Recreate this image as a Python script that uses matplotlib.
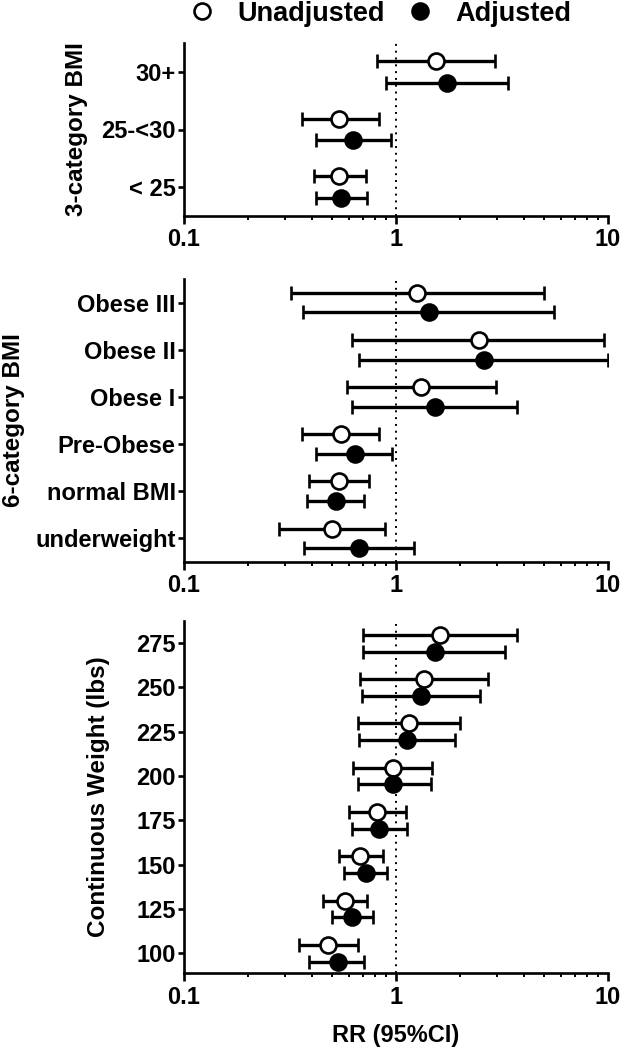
import matplotlib
matplotlib.use('Agg')
import matplotlib.pyplot as plt
from matplotlib.lines import Line2D
from matplotlib.ticker import LogLocator, FixedLocator, NullFormatter

plt.rcParams['font.family'] = ['Liberation Sans', 'DejaVu Sans']
plt.rcParams['font.weight'] = 'bold'

# ---------------- Data ----------------
# Panel 1: 3-category BMI (listed top to bottom)
bmi3_labels = ['30+', '25-<30', '< 25']
bmi3_unadj = [1.54, 0.54, 0.54]
bmi3_unadj_lo = [0.81, 0.36, 0.41]
bmi3_unadj_hi = [2.92, 0.83, 0.72]
bmi3_adj = [1.74, 0.63, 0.55]
bmi3_adj_lo = [0.90, 0.42, 0.42]
bmi3_adj_hi = [3.36, 0.95, 0.73]

# Panel 2: 6-category BMI (listed top to bottom)
bmi6_labels = ['Obese III', 'Obese II', 'Obese I', 'Pre-Obese', 'normal BMI', 'underweight']
bmi6_unadj = [1.25, 2.46, 1.31, 0.55, 0.54, 0.50]
bmi6_unadj_lo = [0.32, 0.62, 0.59, 0.36, 0.39, 0.28]
bmi6_unadj_hi = [5.00, 9.60, 2.97, 0.83, 0.745, 0.886]
bmi6_adj = [1.43, 2.59, 1.53, 0.64, 0.52, 0.67]
bmi6_adj_lo = [0.365, 0.67, 0.62, 0.42, 0.38, 0.367]
bmi6_adj_hi = [5.57, 10.0, 3.71, 0.957, 0.71, 1.22]

# Panel 3: continuous weight (lbs)
weight = [275, 250, 225, 200, 175, 150, 125, 100]
wt_unadj = [1.61, 1.35, 1.15, 0.97, 0.81, 0.68, 0.575, 0.48]
wt_unadj_lo = [0.70, 0.68, 0.66, 0.63, 0.60, 0.54, 0.455, 0.35]
wt_unadj_hi = [3.71, 2.73, 2.01, 1.48, 1.11, 0.87, 0.73, 0.66]
wt_adj = [1.52, 1.31, 1.13, 0.97, 0.83, 0.72, 0.62, 0.53]
wt_adj_lo = [0.70, 0.69, 0.666, 0.66, 0.62, 0.57, 0.50, 0.39]
wt_adj_hi = [3.28, 2.48, 1.89, 1.46, 1.13, 0.91, 0.78, 0.71]

xticks = [0.1, 1, 10]
xticklabels = ['0.1', '1', '10']

FS = 17
LFS = 17.5
MS = 11.5
MEW = 1.9
ELW = 2.4
CAP = 4.8
CAPT = 2.4

fig = plt.figure(figsize=(6.21, 10.5), dpi=100)

L, W = 184 / 621, (608 - 184) / 621


def make_ax(top_px, bot_px):
    return fig.add_axes([L, 1 - bot_px / 1050, W, (bot_px - top_px) / 1050])


def style(ax):
    ax.set_xscale('log')
    ax.set_xlim(0.1, 10)
    ax.xaxis.set_major_locator(FixedLocator(xticks))
    ax.set_xticklabels(xticklabels)
    ax.xaxis.set_minor_locator(LogLocator(base=10, subs=range(2, 10)))
    ax.xaxis.set_minor_formatter(NullFormatter())
    for s in ['top', 'right']:
        ax.spines[s].set_visible(False)
    for s in ['left', 'bottom']:
        ax.spines[s].set_linewidth(1.9)
    ax.tick_params(axis='x', which='major', length=6, width=1.9, pad=3, labelsize=FS)
    ax.tick_params(axis='x', which='minor', length=3, width=1.4)
    ax.tick_params(axis='y', which='major', length=4, width=1.9, pad=2, labelsize=FS)
    ax.axvline(1, color='black', ls=(0, (1, 2.5)), lw=1.4, zorder=0)
    for t in ax.get_xticklabels() + ax.get_yticklabels():
        t.set_fontweight('bold')


def draw(ax, pos, d, un, un_lo, un_hi, ad, ad_lo, ad_hi):
    yu = [p + d for p in pos]
    ya = [p - d for p in pos]
    ax.errorbar(un, yu, xerr=[[v - l for v, l in zip(un, un_lo)], [h - v for v, h in zip(un, un_hi)]],
                fmt='o', ms=MS, mfc='white', mec='black', mew=MEW, ecolor='black',
                elinewidth=ELW, capsize=CAP, capthick=CAPT, zorder=3)
    ax.errorbar(ad, ya, xerr=[[v - l for v, l in zip(ad, ad_lo)], [h - v for v, h in zip(ad, ad_hi)]],
                fmt='o', ms=MS, mfc='black', mec='black', mew=MEW, ecolor='black',
                elinewidth=ELW, capsize=CAP, capthick=CAPT, zorder=3)


# Panel 1
ax1 = make_ax(43, 216)
pos1 = list(range(len(bmi3_labels), 0, -1))
draw(ax1, pos1, 0.19, bmi3_unadj, bmi3_unadj_lo, bmi3_unadj_hi, bmi3_adj, bmi3_adj_lo, bmi3_adj_hi)
ax1.set_ylim(0.5, len(bmi3_labels) + 0.5)
ax1.set_yticks(pos1)
ax1.set_yticklabels(bmi3_labels)
style(ax1)
ax1.set_ylabel('3-category BMI', fontsize=LFS, fontweight='bold')
ax1.yaxis.set_label_coords(-0.226, 0.5)

# Panel 2
ax2 = make_ax(279, 562)
pos2 = list(range(len(bmi6_labels), 0, -1))
draw(ax2, pos2, 0.21, bmi6_unadj, bmi6_unadj_lo, bmi6_unadj_hi, bmi6_adj, bmi6_adj_lo, bmi6_adj_hi)
ax2.set_ylim(0.5, len(bmi6_labels) + 0.5)
ax2.set_yticks(pos2)
ax2.set_yticklabels(bmi6_labels)
style(ax2)
ax2.set_ylabel('6-category BMI', fontsize=LFS, fontweight='bold')
ax2.yaxis.set_label_coords(-0.375, 0.5)

# Panel 3
ax3 = make_ax(621, 973)
draw(ax3, weight, 4.7, wt_unadj, wt_unadj_lo, wt_unadj_hi, wt_adj, wt_adj_lo, wt_adj_hi)
ax3.set_ylim(89, 287.5)
ax3.set_yticks(weight)
ax3.set_yticklabels([str(w) for w in weight])
style(ax3)
ax3.set_ylabel('Continuous Weight (lbs)', fontsize=LFS, fontweight='bold')
ax3.yaxis.set_label_coords(-0.175, 0.5)
ax3.set_xlabel('RR (95%CI)', fontsize=FS, fontweight='bold', labelpad=11)

# Legend
h_un = Line2D([], [], ls='none', marker='o', ms=MS, mfc='white', mec='black', mew=MEW)
h_ad = Line2D([], [], ls='none', marker='o', ms=MS, mfc='black', mec='black', mew=MEW)
fig.legend([h_un, h_ad], ['Unadjusted', 'Adjusted'], loc='center', bbox_to_anchor=(0.612, 0.987),
           ncol=2, frameon=False, prop={'size': 19.5, 'weight': 'bold'},
           handletextpad=0.8, columnspacing=0.8, handlelength=1.0)

fig.savefig('out.png', dpi=100)
